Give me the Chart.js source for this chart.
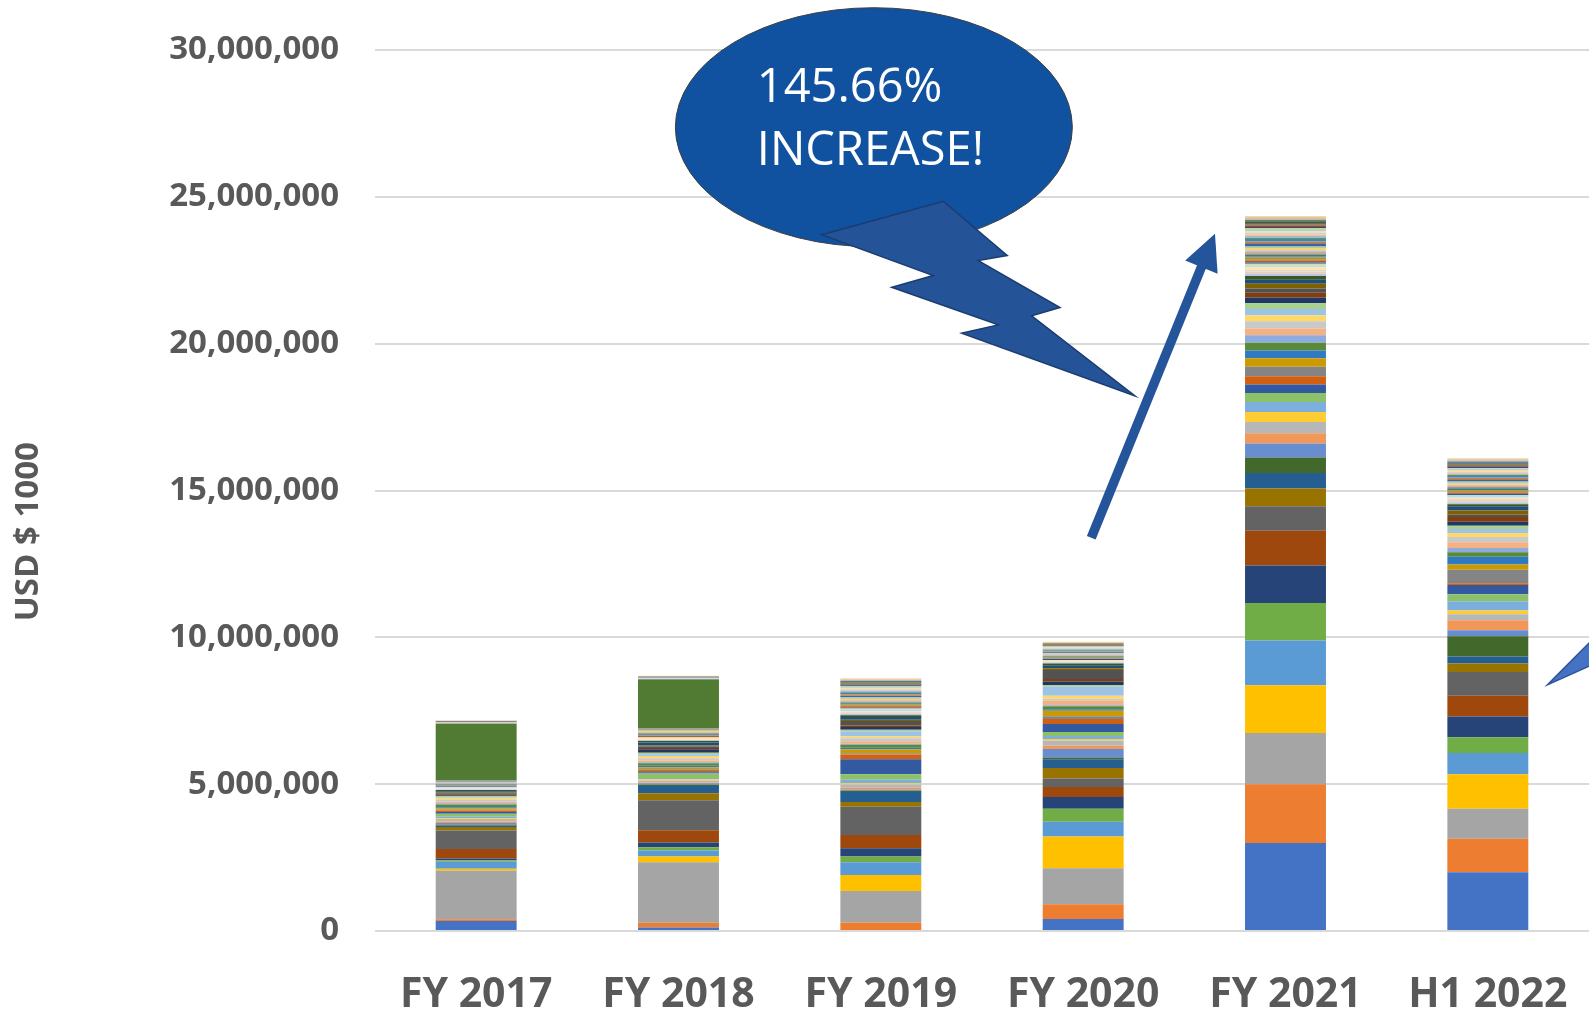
<!DOCTYPE html>
<html>
<head>
<meta charset="utf-8">
<script src="https://cdn.jsdelivr.net/npm/chart.js@4.4.1/dist/chart.umd.min.js"></script>
<style>
  html, body { margin: 0; padding: 0; background: #fff; }
  #wrap { width: 1589px; height: 1012px; position: relative; }
</style>
</head>
<body>
<div id="wrap"><canvas id="chart"></canvas></div>
<script>
// values are in millions of "USD $ 1000"
const categories = ["FY 2017", "FY 2018", "FY 2019", "FY 2020", "FY 2021", "H1 2022"];
const yTicks = [0, 5, 10, 15, 20, 25, 30];

// one row per stacked series, bottom to top: [FY17, FY18, FY19, FY20, FY21, H1 22]
const seriesValues = [
  [0.34, 0.12, 0.00, 0.41, 3.00, 2.00],
  [0.06, 0.16, 0.29, 0.50, 2.00, 1.14],
  [1.65, 2.06, 1.07, 1.23, 1.74, 1.02],
  [0.07, 0.20, 0.55, 1.08, 1.63, 1.18],
  [0.24, 0.20, 0.43, 0.50, 1.52, 0.72],
  [0.05, 0.11, 0.20, 0.44, 1.28, 0.54],
  [0.06, 0.16, 0.28, 0.40, 1.28, 0.70],
  [0.32, 0.42, 0.45, 0.34, 1.18, 0.71],
  [0.63, 1.02, 0.96, 0.29, 0.83, 0.81],
  [0.12, 0.24, 0.16, 0.36, 0.61, 0.29],
  [0.05, 0.25, 0.34, 0.30, 0.53, 0.24],
  [0.03, 0.04, 0.05, 0.06, 0.52, 0.69],
  [0.06, 0.05, 0.04, 0.29, 0.48, 0.20],
  [0.05, 0.03, 0.06, 0.11, 0.35, 0.34],
  [0.08, 0.06, 0.11, 0.18, 0.38, 0.21],
  [0.03, 0.05, 0.04, 0.05, 0.34, 0.12],
  [0.05, 0.04, 0.12, 0.10, 0.34, 0.32],
  [0.10, 0.15, 0.19, 0.14, 0.31, 0.24],
  [0.06, 0.05, 0.51, 0.27, 0.29, 0.31],
  [0.05, 0.04, 0.16, 0.17, 0.28, 0.06],
  [0.03, 0.06, 0.04, 0.09, 0.32, 0.46],
  [0.04, 0.07, 0.14, 0.19, 0.29, 0.18],
  [0.04, 0.05, 0.05, 0.05, 0.27, 0.26],
  [0.10, 0.08, 0.10, 0.10, 0.26, 0.16],
  [0.04, 0.04, 0.04, 0.04, 0.26, 0.14],
  [0.05, 0.06, 0.08, 0.16, 0.23, 0.20],
  [0.06, 0.07, 0.10, 0.06, 0.24, 0.18],
  [0.05, 0.08, 0.06, 0.10, 0.21, 0.13],
  [0.04, 0.06, 0.18, 0.31, 0.21, 0.14],
  [0.04, 0.05, 0.05, 0.06, 0.20, 0.11],
  [0.03, 0.12, 0.10, 0.12, 0.19, 0.14],
  [0.04, 0.04, 0.05, 0.08, 0.16, 0.16],
  [0.03, 0.05, 0.15, 0.31, 0.15, 0.07],
  [0.03, 0.04, 0.04, 0.06, 0.16, 0.15],
  [0.04, 0.10, 0.10, 0.10, 0.14, 0.14],
  [0.04, 0.05, 0.06, 0.06, 0.12, 0.07],
  [0.02, 0.03, 0.05, 0.03, 0.09, 0.06],
  [0.01, 0.02, 0.03, 0.02, 0.07, 0.05],
  [0.02, 0.01, 0.04, 0.01, 0.06, 0.07],
  [0.01, 0.03, 0.02, 0.03, 0.08, 0.04],
  [0.03, 0.02, 0.06, 0.02, 0.05, 0.06],
  [0.01, 0.02, 0.03, 0.01, 0.07, 0.03],
  [0.02, 0.01, 0.02, 0.03, 0.04, 0.05],
  [0.01, 0.03, 0.05, 0.02, 0.06, 0.04],
  [0.02, 0.02, 0.03, 0.01, 0.05, 0.03],
  [0.01, 0.01, 0.04, 0.02, 0.06, 0.05],
  [0.02, 0.03, 0.02, 0.03, 0.04, 0.04],
  [0.01, 0.02, 0.03, 0.02, 0.05, 0.03],
  [0.02, 0.02, 0.04, 0.01, 0.06, 0.04],
  [0.01, 0.03, 0.02, 0.02, 0.04, 0.05],
  [0.02, 0.01, 0.03, 0.03, 0.05, 0.03],
  [0.01, 0.02, 0.05, 0.02, 0.07, 0.04],
  [0.02, 0.02, 0.03, 0.01, 0.04, 0.03],
  [0.01, 0.03, 0.02, 0.02, 0.05, 0.04],
  [0.02, 0.02, 0.04, 0.02, 0.06, 0.05],
  [0.01, 0.02, 0.03, 0.01, 0.04, 0.03],
  [0.02, 0.02, 0.03, 0.02, 0.05, 0.04],
  [1.92, 1.65, 0.01, 0.01, 0.02, 0.01],
  [0.01, 0.01, 0.04, 0.02, 0.06, 0.05],
  [0.01, 0.01, 0.03, 0.03, 0.05, 0.04],
  [0.00, 0.01, 0.04, 0.02, 0.06, 0.05],
  [0.01, 0.00, 0.03, 0.02, 0.05, 0.04],
  [0.01, 0.01, 0.02, 0.03, 0.06, 0.03],
  [0.00, 0.01, 0.04, 0.02, 0.04, 0.05],
  [0.01, 0.01, 0.03, 0.01, 0.05, 0.04],
  [0.01, 0.00, 0.04, 0.02, 0.06, 0.03],
  [0.00, 0.01, 0.03, 0.01, 0.04, 0.04],
  [0.01, 0.01, 0.02, 0.02, 0.05, 0.03],
  [0.01, 0.00, 0.04, 0.01, 0.04, 0.04],
  [0.00, 0.01, 0.03, 0.02, 0.05, 0.03],
  [0.01, 0.01, 0.03, 0.01, 0.04, 0.04],
  [0.01, 0.00, 0.02, 0.02, 0.05, 0.03],
  [0.00, 0.01, 0.03, 0.01, 0.04, 0.03],
  [0.01, 0.01, 0.02, 0.02, 0.04, 0.04],
  [0.01, 0.00, 0.03, 0.01, 0.03, 0.03],
  [0.01, 0.01, 0.02, 0.02, 0.04, 0.03]
];

// excel style series colours, same order as seriesValues
const seriesColors = [
  "#4472C4", "#ED7D31", "#A5A5A5", "#FFC000", "#5B9BD5", "#70AD47",
  "#264478", "#9E480E", "#636363", "#997300", "#255E91", "#43682B",
  "#698ED0", "#F1975A", "#B7B7B7", "#FFCD33", "#7CAFDD", "#8CC168",
  "#335AA1", "#D26012", "#848484", "#CC9A00", "#2E7BC4", "#5A8A39",
  "#8FAADC", "#F4B183", "#C9C9C9", "#FFD966", "#9DC3E6", "#A9D18E",
  "#203864", "#843C0C", "#525252", "#7F6000", "#1F4E79", "#385723",
  "#B4C7E7", "#F8CBAD", "#DBDBDB", "#FFE699", "#BDD7EE", "#C5E0B4",
  "#2F5597", "#C55A11", "#7B7B7B", "#BF9000", "#2E75B6", "#548235",
  "#7C9BD3", "#F3A26E", "#BFBFBF", "#FFD24D", "#8DB9E2", "#9AC97A",
  "#3B63AB", "#DF6A18", "#8E8E8E", "#517A32", "#3A86CC", "#66983F",
  "#A2B9E2", "#F6BE98", "#D2D2D2", "#FFDF80", "#ADCDEA", "#B7D9A0",
  "#2A4C8C", "#A4490E", "#5C5C5C", "#8C6A00", "#245D93", "#3F6428",
  "#90ACDD", "#F5B48A", "#CDCDCD", "#FFDA70"
];

// annotation shapes, in [category position, value] units
const calloutText = ["145.66%", "INCREASE!"];
const calloutCenter = [1.9655, 27.37];
const calloutRadius = [0.981, 4.07];
const calloutTail = [
  [1.7076, 23.71], [2.3086, 24.85], [2.6249, 23.00], [2.4816, 22.83],
  [2.8854, 21.23], [2.7455, 20.95], [3.2561, 18.22], [2.3996, 20.36],
  [2.5805, 20.64], [2.0536, 21.92], [2.2592, 22.32]
];
const arrowFrom = [3.040, 13.39];
const arrowTo = [3.6515, 23.74];
const edgeWedge = [[5.2958, 8.39], [5.5196, 9.945], [5.5196, 9.075]];

const textGray = "#595959";
const fontFamily = "'Open Sans', 'Noto Sans', sans-serif";

function pt(chart, ix, v) {
  const xs = chart.scales.x;
  const ys = chart.scales.y;
  const x0 = xs.getPixelForValue(0);
  const step = xs.getPixelForValue(1) - x0;
  return [x0 + ix * step, ys.getPixelForValue(v)];
}

function polygon(ctx, chart, pts) {
  ctx.beginPath();
  pts.forEach((p, i) => {
    const q = pt(chart, p[0], p[1]);
    if (i === 0) ctx.moveTo(q[0], q[1]); else ctx.lineTo(q[0], q[1]);
  });
  ctx.closePath();
}

const annotations = {
  id: "annotations",
  afterDraw(chart) {
    const ctx = chart.ctx;
    const ys = chart.scales.y;
    ctx.save();

    // y axis title
    const titleY = ys.getPixelForValue(13.6);
    ctx.translate(29, titleY);
    ctx.rotate(-Math.PI / 2);
    ctx.fillStyle = textGray;
    ctx.font = "bold 33px " + fontFamily;
    ctx.textAlign = "center";
    ctx.textBaseline = "middle";
    ctx.fillText("USD $ 1000", 0, 0);
    ctx.setTransform(1, 0, 0, 1, 0, 0);

    // speech bubble
    const c = pt(chart, calloutCenter[0], calloutCenter[1]);
    const edge = pt(chart, calloutCenter[0] + calloutRadius[0], calloutCenter[1] - calloutRadius[1]);
    ctx.beginPath();
    ctx.ellipse(c[0], c[1], edge[0] - c[0], edge[1] - c[1], 0, 0, Math.PI * 2);
    ctx.fillStyle = "#1152A0";
    ctx.fill();
    ctx.lineWidth = 1;
    ctx.strokeStyle = "#3F3F3F";
    ctx.stroke();

    polygon(ctx, chart, calloutTail);
    ctx.fillStyle = "#245397";
    ctx.fill();
    ctx.lineWidth = 1.5;
    ctx.strokeStyle = "#1C3C70";
    ctx.stroke();

    ctx.fillStyle = "#ffffff";
    ctx.font = "47px " + fontFamily;
    ctx.textAlign = "left";
    ctx.textBaseline = "alphabetic";
    const t1 = pt(chart, 1.387, 28.23);
    const t2 = pt(chart, 1.387, 26.07);
    ctx.fillText(calloutText[0], t1[0], t1[1]);
    ctx.fillText(calloutText[1], t2[0], t2[1]);

    // wedge at the right edge
    polygon(ctx, chart, edgeWedge);
    ctx.fillStyle = "#4472C4";
    ctx.fill();
    ctx.lineWidth = 1.5;
    ctx.strokeStyle = "#2F5597";
    ctx.stroke();

    // arrow
    const a = pt(chart, arrowFrom[0], arrowFrom[1]);
    const b = pt(chart, arrowTo[0], arrowTo[1]);
    const dx = b[0] - a[0], dy = b[1] - a[1];
    const len = Math.hypot(dx, dy);
    const ux = dx / len, uy = dy / len;
    const headLen = 36, headHalf = 17.5;
    const bx = b[0] - ux * headLen, by = b[1] - uy * headLen;
    ctx.beginPath();
    ctx.moveTo(a[0], a[1]);
    ctx.lineTo(bx + ux * 2, by + uy * 2);
    ctx.lineWidth = 9.5;
    ctx.strokeStyle = "#24549A";
    ctx.lineCap = "butt";
    ctx.stroke();
    ctx.beginPath();
    ctx.moveTo(b[0], b[1]);
    ctx.lineTo(bx - uy * headHalf, by + ux * headHalf);
    ctx.lineTo(bx + uy * headHalf, by - ux * headHalf);
    ctx.closePath();
    ctx.fillStyle = "#24549A";
    ctx.fill();

    ctx.restore();
  }
};

const datasets = seriesValues.map((vals, i) => ({
  label: "Series " + (i + 1),
  data: vals,
  backgroundColor: seriesColors[i % seriesColors.length],
  borderWidth: 0,
  barPercentage: 0.4,
  categoryPercentage: 1
}));

new Chart(document.getElementById("chart"), {
  type: "bar",
  data: { labels: categories, datasets },
  options: {
    responsive: true,
    maintainAspectRatio: false,
    animation: false,
    layout: { padding: { top: 50, right: 0, bottom: 0, left: 0 } },
    plugins: {
      legend: { display: false },
      tooltip: { enabled: false }
    },
    scales: {
      x: {
        stacked: true,
        grid: { display: false, drawTicks: false },
        border: { display: false },
        ticks: {
          color: textGray,
          padding: 40,
          font: { family: fontFamily, size: 41, weight: "bold" }
        },
        afterFit(scale) {
          scale.height = 81;
          scale.paddingLeft = 0;
          scale.paddingRight = 0;
        }
      },
      y: {
        stacked: true,
        min: 0,
        max: 30,
        afterBuildTicks(scale) { scale.ticks = yTicks.map(v => ({ value: v })); },
        grid: { color: "#D9D9D9", lineWidth: 2, drawTicks: false },
        border: { display: false },
        ticks: {
          color: textGray,
          padding: 36,
          font: { family: fontFamily, size: 33, weight: "bold" },
          callback: (v) => (v * 1000000).toLocaleString("en-US")
        },
        afterFit(scale) {
          scale.width = 375;
          scale.paddingTop = 0;
          scale.paddingBottom = 0;
        }
      }
    }
  },
  plugins: [annotations]
});
</script>
</body>
</html>
